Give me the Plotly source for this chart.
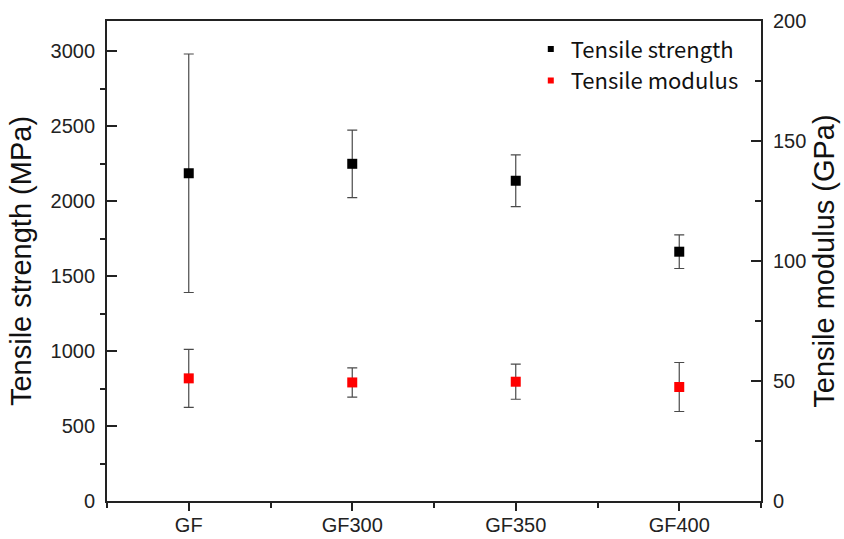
import plotly.graph_objects as go

categories = ["GF", "GF300", "GF350", "GF400"]
strength = [2185, 2248, 2135, 1662]        # MPa
strength_err = [795, 225, 172, 112]
modulus = [51.1, 49.4, 49.7, 47.5]         # GPa
modulus_err = [12.1, 6.1, 7.3, 10.2]

xpos = list(range(len(categories)))
err_color = "#4a4a4a"

fig = go.Figure()
fig.add_trace(go.Scatter(
    x=xpos, y=strength, mode="markers", showlegend=False,
    marker=dict(symbol="square", size=10, color="black"),
    error_y=dict(type="data", array=strength_err, visible=True,
                 color=err_color, thickness=1.2, width=5),
    yaxis="y"))
fig.add_trace(go.Scatter(
    x=xpos, y=modulus, mode="markers", showlegend=False,
    marker=dict(symbol="square", size=10, color="#ff0000"),
    error_y=dict(type="data", array=modulus_err, visible=True,
                 color=err_color, thickness=1.2, width=5),
    yaxis="y2"))
# legend entries (small symbols)
fig.add_trace(go.Scatter(x=[None], y=[None], mode="markers", name="Tensile strength",
                         marker=dict(symbol="square", size=6, color="black")))
fig.add_trace(go.Scatter(x=[None], y=[None], mode="markers", name="Tensile modulus",
                         marker=dict(symbol="square", size=6, color="#ff0000"), yaxis="y2"))

axis_font = dict(family="Liberation Sans, Arial", size=20, color="#222")
title_font = dict(family="Liberation Sans, Arial", size=29, color="#111")
fig.update_layout(
    width=844, height=539,
    margin=dict(l=107, r=83, t=21, b=38),
    paper_bgcolor="white", plot_bgcolor="white",
    font=dict(family="Liberation Sans, Arial", color="#222"),
    xaxis=dict(
        range=[-0.5, 3.5], tickmode="array", tickvals=xpos, ticktext=categories,
        showline=True, linecolor="#222", linewidth=1.8, mirror=True,
        ticks="outside", ticklen=8, tickwidth=1.5, tickcolor="#222",
        minor=dict(tickmode="linear", tick0=-0.5, dtick=1, ticks="outside",
                   ticklen=5, tickwidth=1.5, tickcolor="#222"),
        showgrid=False, zeroline=False, tickfont=axis_font, automargin=False,
        ticklabelstandoff=-3),
    yaxis=dict(
        range=[0, 3200], tickmode="linear", tick0=0, dtick=500,
        showline=True, linecolor="#222", linewidth=1.8,
        ticks="inside", ticklen=10, tickwidth=1.5, tickcolor="#222",
        minor=dict(tickmode="linear", tick0=250, dtick=500, ticks="outside",
                   ticklen=5, tickwidth=1.5, tickcolor="#222"),
        showgrid=False, zeroline=False, tickfont=axis_font, ticklabelstandoff=6,
        automargin=False,
        title=dict(text="Tensile strength (MPa)", font=title_font, standoff=10)),
    yaxis2=dict(
        range=[0, 200], tickmode="linear", tick0=0, dtick=50,
        overlaying="y", side="right",
        showline=True, linecolor="#222", linewidth=1.8,
        ticks="inside", ticklen=10, tickwidth=1.5, tickcolor="#222",
        minor=dict(tickmode="linear", tick0=25, dtick=50, ticks="inside",
                   ticklen=6, tickwidth=1.5, tickcolor="#222"),
        showgrid=False, zeroline=False, tickfont=axis_font, ticklabelstandoff=6,
        automargin=False,
        title=dict(text="Tensile modulus (GPa)", font=title_font, standoff=8)),
    legend=dict(x=0.648, y=0.985, xanchor="left", yanchor="top",
                bgcolor="rgba(0,0,0,0)", font=dict(family="Noto Sans CJK KR", size=22, color="#111"),
                tracegroupgap=0),
)

fig.write_html("out.html")
